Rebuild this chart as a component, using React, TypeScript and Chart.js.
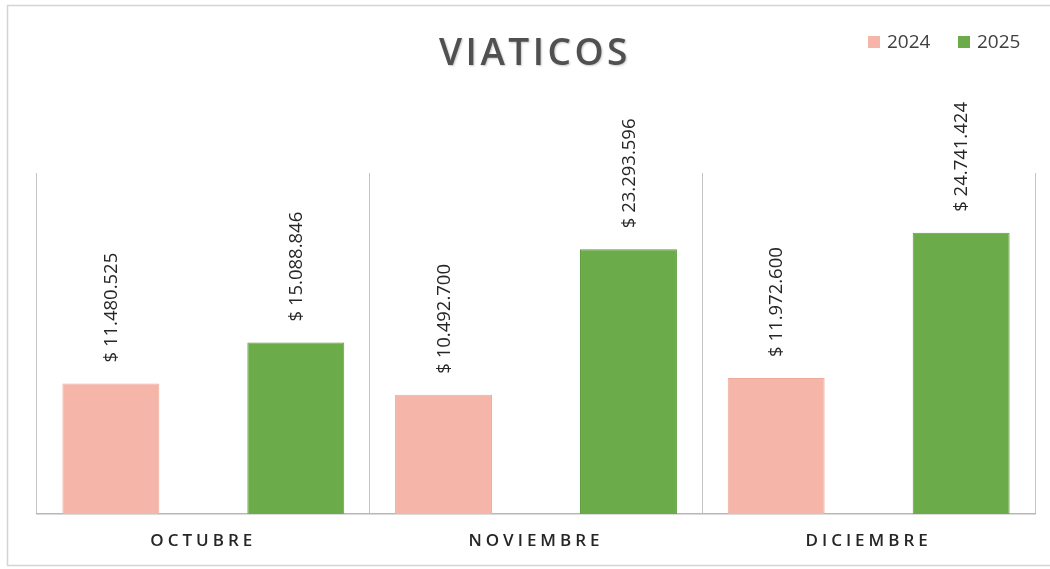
import React, { useEffect, useRef } from "react";
import { Chart, registerables } from "chart.js";

Chart.register(...registerables);

const categories = ["OCTUBRE", "NOVIEMBRE", "DICIEMBRE"];
const series2024 = [11480525, 10492700, 11972600];
const series2025 = [15088846, 23293596, 24741424];
const seriesLabels = ["2024", "2025"];
const chartTitle = "VIATICOS";

const PINK = "#f5b5a9";
const GREEN = "#6cab4a";
const FONT = "'Open Sans', 'Noto Sans', sans-serif";

function fmt(v: number): string {
  return "$ " + String(v).replace(/\B(?=(\d{3})+(?!\d))/g, ".");
}

const decorPlugin = {
  id: "decor",
  beforeDraw(chart: any) {
    const ctx = chart.ctx;
    ctx.save();
    ctx.strokeStyle = "#d4d4d4";
    ctx.lineWidth = 1.5;
    ctx.beginPath();
    ctx.moveTo(1060, 5.5);
    ctx.lineTo(7.5, 5.5);
    ctx.lineTo(7.5, 565.5);
    ctx.lineTo(1060, 565.5);
    ctx.stroke();
    ctx.restore();
    (ctx as any).letterSpacing = "4px";
  },
  afterDatasetsDraw(chart: any) {
    const ctx = chart.ctx;
    (ctx as any).letterSpacing = "0px";
    ctx.save();
    ctx.font = `18.5px ${FONT}`;
    ctx.fillStyle = "#262626";
    ctx.textAlign = "left";
    ctx.textBaseline = "middle";
    chart.data.datasets.forEach((ds: any, di: number) => {
      const meta = chart.getDatasetMeta(di);
      meta.data.forEach((bar: any, i: number) => {
        const v = ds.data[i];
        ctx.save();
        ctx.translate(bar.x + 1, bar.y - 21);
        ctx.rotate(-Math.PI / 2);
        ctx.fillText(fmt(v), 0, 0);
        ctx.restore();
      });
    });
    ctx.restore();
  },
  afterDraw(chart: any) {
    const ctx = chart.ctx;
    ctx.save();
    // title
    (ctx as any).letterSpacing = "3.5px";
    ctx.font = `600 37px ${FONT}`;
    ctx.textAlign = "center";
    ctx.textBaseline = "middle";
    ctx.shadowColor = "rgba(0,0,0,0.22)";
    ctx.shadowOffsetX = 1;
    ctx.shadowOffsetY = 1;
    ctx.shadowBlur = 2;
    ctx.fillStyle = "#505050";
    ctx.fillText(chartTitle, 535, 54);
    ctx.shadowColor = "transparent";
    (ctx as any).letterSpacing = "0px";
    // legend
    ctx.font = `19px ${FONT}`;
    ctx.textAlign = "left";
    const items = [
      { label: seriesLabels[0], color: PINK, x: 868 },
      { label: seriesLabels[1], color: GREEN, x: 958 },
    ];
    items.forEach((it) => {
      ctx.fillStyle = it.color;
      ctx.fillRect(it.x, 36, 12, 12);
      ctx.fillStyle = "#404040";
      ctx.fillText(it.label, it.x + 19, 43);
    });
    ctx.restore();
  },
};

export default function App() {
  const ref = useRef<HTMLCanvasElement | null>(null);
  useEffect(() => {
    if (!ref.current) return;
    const chart = new Chart(ref.current, {
      type: "bar",
      data: {
        labels: categories,
        datasets: [
          {
            label: seriesLabels[0],
            data: series2024,
            backgroundColor: PINK,
            borderColor: "#f0aa9c",
            borderWidth: 1,
            categoryPercentage: 1.112,
            barPercentage: 0.524,
          },
          {
            label: seriesLabels[1],
            data: series2025,
            backgroundColor: GREEN,
            borderColor: "#5e9c3e",
            borderWidth: 1,
            categoryPercentage: 1.112,
            barPercentage: 0.524,
          },
        ],
      },
      options: {
        responsive: false,
        animation: false,
        devicePixelRatio: 1,
        layout: { padding: { left: 37, right: 15, top: 173, bottom: 1 } },
        plugins: {
          legend: { display: false },
          title: { display: false },
          tooltip: { enabled: false },
        },
        scales: {
          x: {
            grid: {
              offset: true,
              color: "#c4c4c4",
              lineWidth: 1,
              drawTicks: false,
            },
            border: { display: true, color: "#b8b8b8", width: 1.5 },
            ticks: {
              color: "#262626",
              padding: 16.8,
              font: { family: FONT, size: 17, weight: 600 },
            },
          },
          y: {
            display: false,
            min: 0,
            max: 30000000,
          },
        },
      },
      plugins: [decorPlugin],
    });
    return () => chart.destroy();
  }, []);
  return (
    <div style={{ position: "fixed", left: 0, top: 0, width: 1050, height: 569, background: "#fff" }}>
      <canvas ref={ref} width={1050} height={569} style={{ display: "block" }} />
    </div>
  );
}
